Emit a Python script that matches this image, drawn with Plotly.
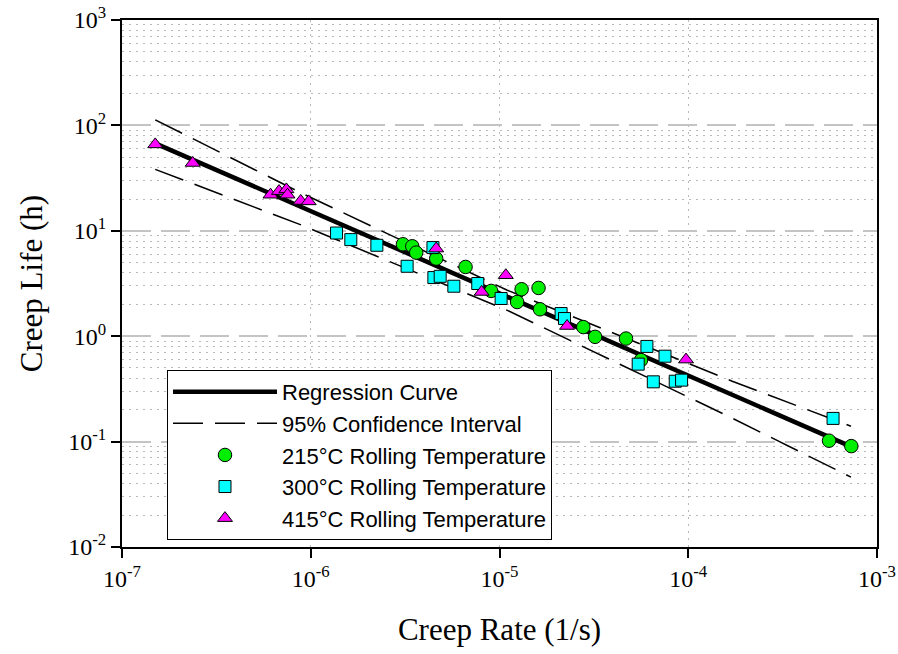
import plotly.graph_objects as go

# ---- data ----
reg_x = [1.5e-7, 7.4e-4]
reg_y = [67.5, 0.0887]

ci_up_x = [1.5e-7, 8.75e-7, 1.10e-5, 1.71e-4, 7.28e-4]
ci_up_y = [113, 23.2, 2.73, 0.374, 0.140]
ci_lo_x = [1.5e-7, 8.96e-7, 1.10e-5, 1.71e-4, 7.28e-4]
ci_lo_y = [38.3, 11.3, 1.76, 0.167, 0.046]

t215_x = [3.08e-6, 3.45e-6, 3.62e-6, 4.62e-6, 6.61e-6, 9.03e-6, 1.24e-5, 1.31e-5,
          1.61e-5, 1.64e-5, 2.78e-5, 3.21e-5, 4.68e-5, 5.62e-5, 5.57e-4, 7.31e-4]
t215_y = [7.45, 7.13, 6.21, 5.45, 4.54, 2.69, 2.11, 2.79,
          2.87, 1.80, 1.22, 0.986, 0.95, 0.593, 0.102, 0.0906]

t300_x = [1.37e-6, 1.63e-6, 2.24e-6, 3.24e-6, 4.44e-6, 4.49e-6, 4.85e-6, 5.73e-6,
          7.67e-6, 1.02e-5, 2.12e-5, 2.21e-5, 5.43e-5, 6.04e-5, 7.53e-5, 6.53e-5,
          8.53e-5, 9.22e-5, 5.85e-4]
t300_y = [9.53, 8.25, 7.29, 4.61, 6.93, 3.6, 3.7, 2.98,
          3.16, 2.28, 1.64, 1.47, 0.543, 0.80, 0.646, 0.369,
          0.374, 0.383, 0.166]

t415_x = [1.50e-7, 2.37e-7, 6.12e-7, 6.79e-7, 7.43e-7, 7.53e-7, 8.85e-7, 9.75e-7,
          4.62e-6, 8.04e-6, 1.08e-5, 2.28e-5, 9.73e-5]
t415_y = [66, 44, 22.0, 23.8, 24.7, 22.0, 19.2, 19.0,
          6.78, 2.63, 3.79, 1.25, 0.60]

x_tickvals = [1e-7, 1e-6, 1e-5, 1e-4, 1e-3]
x_ticktext = ["10<sup>-7</sup>", "10<sup>-6</sup>", "10<sup>-5</sup>", "10<sup>-4</sup>", "10<sup>-3</sup>"]
y_tickvals = [1e-2, 1e-1, 1e0, 1e1, 1e2, 1e3]
y_ticktext = ["10<sup>-2</sup>", "10<sup>-1</sup>", "10<sup>0</sup>", "10<sup>1</sup>", "10<sup>2</sup>", "10<sup>3</sup>"]

# ---- figure ----
SERIF = "Times New Roman, Liberation Serif, serif"
SANS = "Arial, Liberation Sans, sans-serif"

fig = go.Figure()

fig.add_trace(go.Scatter(x=reg_x, y=reg_y, mode="lines", name="Regression Curve",
                         line=dict(color="black", width=4.5)))
fig.add_trace(go.Scatter(x=ci_up_x, y=ci_up_y, mode="lines", name="95% Confidence Interval",
                         legendgroup="ci",
                         line=dict(color="black", width=1.5, dash="30px,12px")))
fig.add_trace(go.Scatter(x=ci_lo_x, y=ci_lo_y, mode="lines", name="95% Confidence Interval",
                         legendgroup="ci", showlegend=False,
                         line=dict(color="black", width=1.5, dash="30px,12px")))

mline = dict(color="black", width=1)
fig.add_trace(go.Scatter(x=t215_x, y=t215_y, mode="markers", name="215°C Rolling Temperature",
                         marker=dict(symbol="circle", size=13.5, color="#00ee00", line=mline)))
fig.add_trace(go.Scatter(x=t300_x, y=t300_y, mode="markers", name="300°C Rolling Temperature",
                         marker=dict(symbol="square", size=12, color="#00ffff", line=mline)))
fig.add_trace(go.Scatter(x=t415_x, y=t415_y, mode="markers", name="415°C Rolling Temperature",
                         marker=dict(symbol="triangle-up", size=13, color="#ff00ff", line=mline)))

y_minor = [m * 10 ** e for e in range(-2, 3) for m in range(2, 10)]

fig.update_layout(
    width=898, height=654,
    margin=dict(l=122, r=21, t=20, b=107),
    paper_bgcolor="white", plot_bgcolor="white",
    showlegend=True,
    legend=dict(x=0.0596, y=0.336, xanchor="left", yanchor="top",
                bgcolor="white", bordercolor="black", borderwidth=1,
                font=dict(family=SANS, size=22, color="black"),
                itemwidth=104, tracegroupgap=0),
    xaxis=dict(type="log", range=[-7, -3], automargin=False,
               tickmode="array", tickvals=x_tickvals, ticktext=x_ticktext,
               tickfont=dict(family=SERIF, size=24, color="black"),
               ticks="outside", ticklen=9, tickwidth=1.5, tickcolor="black",
               showline=True, linecolor="black", linewidth=2, mirror=True,
               showgrid=True, gridcolor="#b8b8b8", gridwidth=1, griddash="2px,5px",
               zeroline=False,
               title=dict(text="Creep Rate (1/s)", font=dict(family=SERIF, size=31, color="black"),
                          standoff=28)),
    yaxis=dict(type="log", range=[-2, 3], automargin=False,
               tickmode="array", tickvals=y_tickvals, ticktext=y_ticktext,
               tickfont=dict(family=SERIF, size=24, color="black"),
               ticks="outside", ticklen=9, tickwidth=1.5, tickcolor="black",
               showline=True, linecolor="black", linewidth=2, mirror=True,
               showgrid=True, gridcolor="#c4c4c4", gridwidth=2, griddash="29px,10px",
               zeroline=False,
               minor=dict(tickmode="array", tickvals=y_minor, ticks="",
                          showgrid=True, gridcolor="#b8b8b8", gridwidth=1, griddash="2px,5px"),
               title=dict(text="Creep Life (h)", font=dict(family=SERIF, size=31, color="black"),
                          standoff=16)),
)

fig.write_html("out.html")
